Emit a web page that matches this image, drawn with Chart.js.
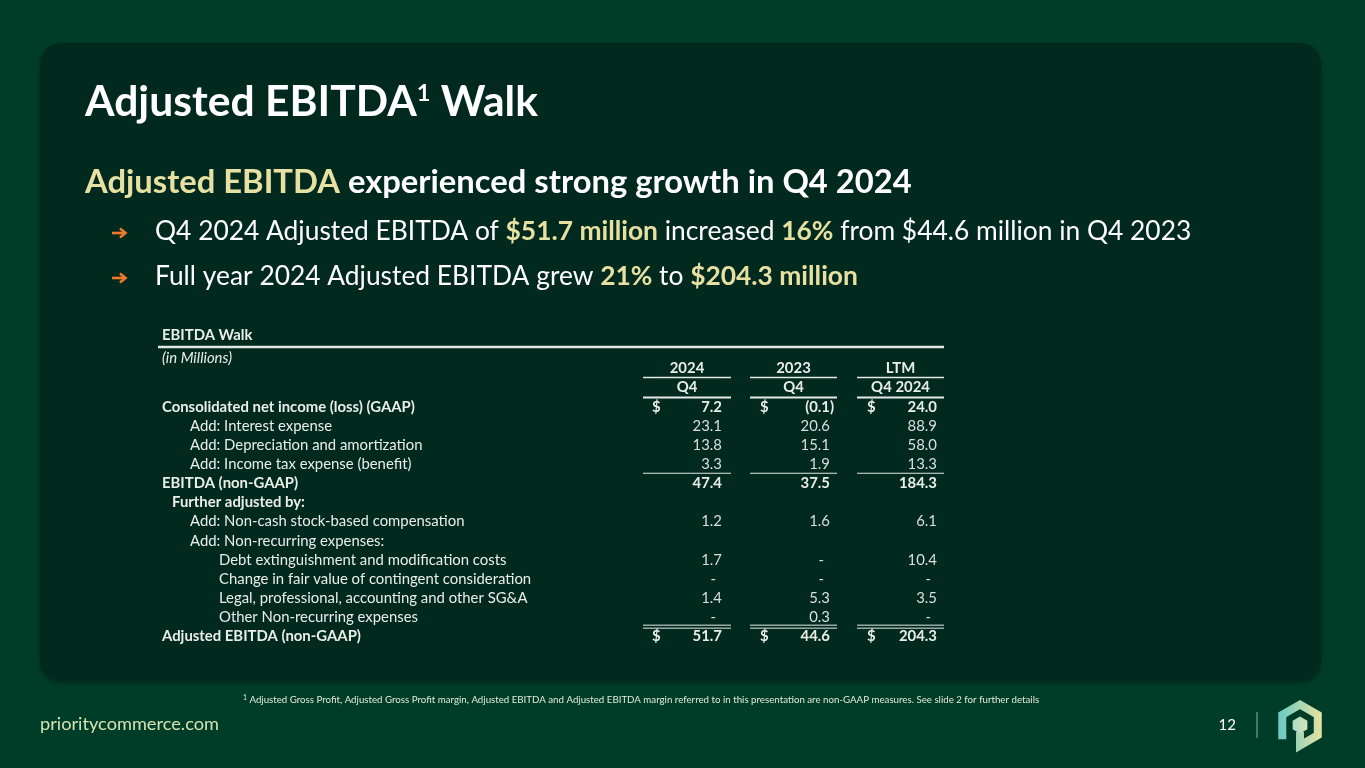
<!DOCTYPE html>
<html><head><meta charset="utf-8">
<script src="https://cdn.jsdelivr.net/npm/chart.js@4.4.1/dist/chart.umd.min.js"></script>
<style>html,body{margin:0;padding:0;background:#003d29;overflow:hidden}canvas{display:block}</style>
</head><body><canvas id="c" width="1365" height="768"></canvas>
<script>
// ---------- DATA ----------
const yearHeaders = ["2024", "2023", "LTM"];
const periodHeaders = ["Q4", "Q4", "Q4 2024"];
const rowLabels = [
  "Consolidated net income (loss) (GAAP)",
  "Add: Interest expense",
  "Add: Depreciation and amortization",
  "Add: Income tax expense (benefit)",
  "EBITDA (non-GAAP)",
  "Further adjusted by:",
  "Add: Non-cash stock-based compensation",
  "Add: Non-recurring expenses:",
  "Debt extinguishment and modification costs",
  "Change in fair value of contingent consideration",
  "Legal, professional, accounting and other SG&A",
  "Other Non-recurring expenses",
  "Adjusted EBITDA (non-GAAP)"
];
const q4_2024 = [7.2, 23.1, 13.8, 3.3, 47.4, null, 1.2, null, 1.7, 0, 1.4, 0, 51.7];
const q4_2023 = [-0.1, 20.6, 15.1, 1.9, 37.5, null, 1.6, null, 0, 0, 5.3, 0.3, 44.6];
const ltm_q4_2024 = [24.0, 88.9, 58.0, 13.3, 184.3, null, 6.1, null, 10.4, 0, 3.5, 0, 204.3];
const rowKind = ["total","item","item","item","total","heading","item","item","sub","sub","sub","sub","total"];
const dollarRows = [0, 12];

// ---------- STYLE / LAYOUT ----------
const FONT = 'Lato';
const BG = '#003d29', PANEL = '#01291d', BEIGE = '#e6e0a3', ORANGE = '#f0792a', TXT = '#e9eee9', LINE = '#e3e9e5';
const indentX = {total:162, heading:172, item:190, sub:219};
const cols = [
  {dollar:652, right:722, l:643, r:731},
  {dollar:760, right:830, l:750, r:837},
  {dollar:867, right:937, l:857, r:944}
];
const series = [q4_2024, q4_2023, ltm_q4_2024];

function setFont(ctx, w, size, style){ ctx.font = `${style||'normal'} ${w} ${size}px ${FONT}`; }
function runsWidth(ctx, runs, size){
  let w = 0;
  for (const r of runs){ setFont(ctx, r.w, size*(r.scale||1), r.style); w += ctx.measureText(r.t).width; }
  return w;
}
function fitSize(ctx, runs, target){ return 100 * target / runsWidth(ctx, runs, 100); }
function drawRuns(ctx, runs, x, y, size){
  for (const r of runs){
    setFont(ctx, r.w, size*(r.scale||1), r.style);
    ctx.fillStyle = r.c || '#ffffff';
    ctx.fillText(r.t, x, y + (r.dy ? r.dy*size : 0));
    x += ctx.measureText(r.t).width;
  }
}
function rr(ctx, x, y, w, h, r){
  ctx.beginPath(); ctx.moveTo(x+r,y); ctx.lineTo(x+w-r,y); ctx.quadraticCurveTo(x+w,y,x+w,y+r);
  ctx.lineTo(x+w,y+h-r); ctx.quadraticCurveTo(x+w,y+h,x+w-r,y+h); ctx.lineTo(x+r,y+h);
  ctx.quadraticCurveTo(x,y+h,x,y+h-r); ctx.lineTo(x,y+r); ctx.quadraticCurveTo(x,y,x+r,y); ctx.closePath();
}
function hline(ctx, x1, x2, y, w){ ctx.strokeStyle = LINE; ctx.lineWidth = w; ctx.beginPath(); ctx.moveTo(x1,y); ctx.lineTo(x2,y); ctx.stroke(); }
function fmt(v){ if (v === 0) return '-'; return v < 0 ? '(' + Math.abs(v).toFixed(1) + ')' : v.toFixed(1); }
function arrow(ctx, x, y){
  ctx.strokeStyle = ORANGE; ctx.lineWidth = 2.6; ctx.lineCap = 'butt'; ctx.lineJoin = 'miter';
  ctx.beginPath(); ctx.moveTo(x, y); ctx.lineTo(x + 13, y); ctx.stroke();
  ctx.beginPath(); ctx.moveTo(x + 8, y - 4.5); ctx.lineTo(x + 13.5, y); ctx.lineTo(x + 8, y + 4.5); ctx.stroke();
}

const slidePlugin = {
  id: 'slide',
  beforeDraw(chart){
    const ctx = chart.ctx; ctx.save();
    ctx.fillStyle = BG; ctx.fillRect(0, 0, chart.width, chart.height);
    ctx.shadowColor = 'rgba(0,0,0,0.35)'; ctx.shadowBlur = 5; ctx.shadowOffsetY = 2;
    rr(ctx, 40, 43, 1281, 638, 24); ctx.fillStyle = PANEL; ctx.fill();
    ctx.restore();
  },
  afterDraw(chart){
    const ctx = chart.ctx; ctx.save();
    ctx.textBaseline = 'alphabetic'; ctx.textAlign = 'left';
    // Title
    const title = [{t:'Adjusted EBITDA', w:'bold'}, {t:'1', w:'bold', scale:0.55, dy:-0.36}, {t:' Walk', w:'bold'}];
    drawRuns(ctx, title, 85, 116, fitSize(ctx, title, 453));
    // Subheading
    const sub = [{t:'Adjusted EBITDA', w:'bold', c:BEIGE}, {t:' experienced strong growth in Q4 2024', w:'bold'}];
    drawRuns(ctx, sub, 85, 193, fitSize(ctx, sub, 827));
    // Bullets
    const b1 = [{t:'Q4 2024 Adjusted EBITDA of ', w:'normal'}, {t:'$51.7 million', w:'bold', c:BEIGE}, {t:' increased ', w:'normal'}, {t:'16%', w:'bold', c:BEIGE}, {t:' from $44.6 million in Q4 2023', w:'normal'}];
    const b2 = [{t:'Full year 2024 Adjusted EBITDA grew ', w:'normal'}, {t:'21%', w:'bold', c:BEIGE}, {t:' to ', w:'normal'}, {t:'$204.3 million', w:'bold', c:BEIGE}];
    const bs = fitSize(ctx, b1, 1037);
    drawRuns(ctx, b1, 155, 240, bs);
    drawRuns(ctx, b2, 155, 285, bs);
    arrow(ctx, 112, 233); arrow(ctx, 112, 278);

    // ---------- Table ----------
    const y = chart.scales.y;
    const rowY = i => y.getPixelForValue(i);
    const half = (rowY(1) - rowY(0)) / 2;
    const ts = fitSize(ctx, [{t:rowLabels[0], w:'bold'}], 253);
    const base = ts * 0.36;
    ctx.fillStyle = TXT;
    setFont(ctx, 'bold', ts); ctx.fillText('EBITDA Walk', 162, rowY(0) - 33 + base);
    hline(ctx, 158, 944, rowY(0) - 1.1*half*2, 2.5);
    setFont(ctx, 'normal', ts, 'italic'); ctx.fillText('(in Millions)', 162, rowY(0) - 0.55*half*2 + base);
    // headers
    ctx.textAlign = 'center';
    cols.forEach((c, k) => {
      setFont(ctx, 'bold', ts); ctx.fillStyle = TXT;
      ctx.fillText(yearHeaders[k], (c.l + c.r)/2, rowY(0) + base);
      hline(ctx, c.l, c.r, rowY(0) + half, 1.5);
      ctx.fillText(periodHeaders[k], (c.l + c.r)/2, rowY(1) + base);
      hline(ctx, c.l, c.r, rowY(1) + half + 0.8, 2.2);
    });
    // rows
    rowLabels.forEach((lab, i) => {
      const yy = rowY(i + 2) + base;
      const bold = rowKind[i] !== 'item' && rowKind[i] !== 'sub';
      ctx.textAlign = 'left'; ctx.fillStyle = TXT;
      setFont(ctx, bold ? 'bold' : 'normal', ts);
      ctx.fillText(lab, indentX[rowKind[i]], yy);
      cols.forEach((c, k) => {
        const v = series[k][i];
        if (v === null || v === undefined) return;
        const numBold = rowKind[i] === 'total';
        setFont(ctx, numBold ? 'bold' : 'normal', ts);
        ctx.fillStyle = numBold ? TXT : '#d9dfdb';
        if (dollarRows.includes(i)) { ctx.textAlign = 'left'; ctx.fillText('$', c.dollar, yy); }
        const s = fmt(v);
        ctx.textAlign = 'right';
        if (v < 0) {
          const pw = ctx.measureText(')').width;
          ctx.fillText(s, c.right + pw, yy);
        } else if (v === 0) {
          ctx.fillText(s, c.right - 6, yy);
        } else {
          ctx.fillText(s, c.right, yy);
        }
      });
    });
    // rules
    cols.forEach(c => {
      hline(ctx, c.l, c.r, rowY(3 + 2) + half, 1.2);
      hline(ctx, c.l, c.r, rowY(11 + 2) + half - 1.2, 1);
      hline(ctx, c.l, c.r, rowY(11 + 2) + half + 1.8, 1);
    });

    // footnote
    ctx.textAlign = 'left';
    const fnRuns = [{t:'1', w:'normal', scale:0.7, dy:-0.3, c:'#e2e8e2'}, {t:' Adjusted Gross Profit, Adjusted Gross Profit margin, Adjusted EBITDA and Adjusted EBITDA margin referred to in this presentation are non-GAAP measures. See slide 2 for further details', w:'normal', c:'#e2e8e2'}];
    drawRuns(ctx, fnRuns, 243, 703, fitSize(ctx, fnRuns, 797));
    // footer
    const ft = [{t:'prioritycommerce.com', w:'normal', c:'#d2e4b3'}];
    drawRuns(ctx, ft, 40, 730, fitSize(ctx, ft, 179));
    ctx.fillStyle = '#ffffff'; setFont(ctx, 'normal', 15); ctx.textAlign = 'right';
    ctx.fillText('12', 1236, 730);
    ctx.strokeStyle = '#5f8a77'; ctx.lineWidth = 1.5; ctx.beginPath(); ctx.moveTo(1257, 712); ctx.lineTo(1257, 738); ctx.stroke();
    // logo
    const cx = 1300, cy = 725, R = 20.5;
    const g = ctx.createLinearGradient(cx - 24, cy, cx + 24, cy);
    g.addColorStop(0, '#62c8c6'); g.addColorStop(1, '#ede4a0');
    const pt = (k, r) => { const a = Math.PI/2 + k*Math.PI/3; return [cx + r*Math.cos(a), cy - r*Math.sin(a)]; };
    ctx.strokeStyle = g; ctx.lineWidth = 8; ctx.lineJoin = 'miter'; ctx.lineCap = 'butt';
    ctx.beginPath();
    let p = pt(2, R); ctx.moveTo(p[0], p[1] + 4);
    for (const k of [1, 0, 5, 4, 3]) { p = pt(k, R); ctx.lineTo(p[0], p[1]); }
    ctx.lineTo(p[0], cy + 7);
    ctx.stroke();
    ctx.beginPath();
    for (let k = 0; k < 6; k++){ const q = pt(k, 8.5); k ? ctx.lineTo(q[0], q[1]) : ctx.moveTo(q[0], q[1]); }
    ctx.closePath();
    const g2 = ctx.createLinearGradient(cx - 9, cy, cx + 9, cy);
    g2.addColorStop(0, '#a9dcc6'); g2.addColorStop(1, '#d8e4b6');
    ctx.fillStyle = g2; ctx.fill();
    ctx.restore();
  }
};

const allRows = ['header-year', 'header-period'].concat(rowLabels);
new Chart(document.getElementById('c'), {
  type: 'bar',
  data: {
    labels: allRows,
    datasets: [
      {label: 'Q4 2024', data: [null, null].concat(q4_2024), hidden: true},
      {label: 'Q4 2023', data: [null, null].concat(q4_2023), hidden: true},
      {label: 'LTM Q4 2024', data: [null, null].concat(ltm_q4_2024), hidden: true}
    ]
  },
  options: {
    indexAxis: 'y',
    responsive: false,
    animation: false,
    events: [],
    layout: {padding: {left: 150, right: 405, top: 358.4, bottom: 122.5}},
    plugins: {legend: {display: false}, tooltip: {enabled: false}, title: {display: false}},
    scales: {
      y: {type: 'category', offset: true, display: false},
      x: {display: false, min: 0, max: 1}
    }
  },
  plugins: [slidePlugin]
});
</script>
</body></html>
